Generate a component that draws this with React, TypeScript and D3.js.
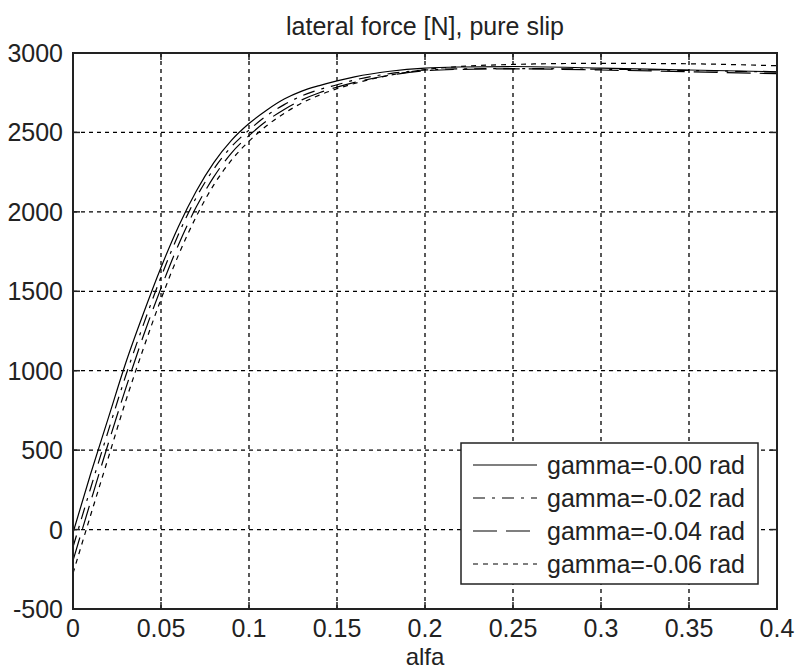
import React from "react";
import * as d3 from "d3";

const alfa = [0, 0.01, 0.02, 0.03, 0.04, 0.05, 0.06, 0.07, 0.08, 0.09, 0.1, 0.11, 0.12, 0.13, 0.14, 0.15, 0.16, 0.18, 0.2, 0.22, 0.25, 0.3, 0.35, 0.4];
const g000 = [-20, 350, 700, 1050, 1360, 1650, 1910, 2130, 2310, 2450, 2556, 2640, 2710, 2760, 2795, 2825, 2850, 2885, 2905, 2912, 2915, 2905, 2893, 2882];
const g002 = [-110, 260, 620, 970, 1290, 1590, 1860, 2090, 2270, 2410, 2515, 2605, 2675, 2730, 2770, 2800, 2830, 2870, 2893, 2900, 2902, 2898, 2890, 2880];
const g004 = [-195, 175, 540, 890, 1220, 1520, 1795, 2030, 2220, 2370, 2480, 2572, 2645, 2705, 2750, 2785, 2815, 2860, 2888, 2897, 2900, 2893, 2882, 2870];
const g006 = [-275, 90, 450, 810, 1140, 1450, 1730, 1970, 2170, 2325, 2445, 2542, 2620, 2685, 2735, 2775, 2808, 2860, 2895, 2915, 2928, 2935, 2932, 2920];

const seriesNames = ["gamma=-0.00 rad", "gamma=-0.02 rad", "gamma=-0.04 rad", "gamma=-0.06 rad"];
const seriesValues = [g000, g002, g004, g006];
const dashes = ["none", "12,7,3,7", "24,9", "5,5"];

const xTicks = [0, 0.05, 0.1, 0.15, 0.2, 0.25, 0.3, 0.35, 0.4];
const xTickLabels = ["0", "0.05", "0.1", "0.15", "0.2", "0.25", "0.3", "0.35", "0.4"];
const yTicks = [-500, 0, 500, 1000, 1500, 2000, 2500, 3000];

const FONT = "'Liberation Sans', Arial, sans-serif";

export default function App() {
  const L = 73, R = 777, T = 53, B = 609;
  const x = d3.scaleLinear().domain([0, 0.4]).range([L, R]);
  const y = d3.scaleLinear().domain([-500, 3000]).range([B, T]);
  const line = d3
    .line<number>()
    .x((_, i) => x(alfa[i]))
    .y((v) => y(v))
    .curve(d3.curveMonotoneX);

  const tickLen = 7;
  const legL = 461, legT = 443, legR = 758, legB = 584;
  const rowY = [465, 498, 531, 564];

  return (
    <svg
      width={795}
      height={671}
      style={{ position: "absolute", left: 0, top: 0, background: "#fff" }}
      fontFamily={FONT}
    >
      <rect x={0} y={0} width={795} height={671} fill="#fff" />
      {/* grid */}
      <g stroke="#000" strokeWidth={1.3} strokeDasharray="4,4">
        {xTicks.map((t, i) => (
          <line key={"gx" + i} x1={x(t)} x2={x(t)} y1={B} y2={T} />
        ))}
        {yTicks.map((t, i) => (
          <line key={"gy" + i} x1={L} x2={R} y1={y(t)} y2={y(t)} />
        ))}
      </g>
      {/* curves */}
      <g fill="none" stroke="#000" strokeWidth={1.2}>
        {seriesValues.map((s, i) => (
          <path key={"s" + i} d={line(s) || ""} strokeDasharray={dashes[i]} />
        ))}
      </g>
      {/* ticks */}
      <g stroke="#222" strokeWidth={1.5}>
        {xTicks.map((t, i) => (
          <g key={"tx" + i}>
            <line x1={x(t)} x2={x(t)} y1={B} y2={B - tickLen} />
            <line x1={x(t)} x2={x(t)} y1={T} y2={T + tickLen} />
          </g>
        ))}
        {yTicks.map((t, i) => (
          <g key={"ty" + i}>
            <line x1={L} x2={L + tickLen} y1={y(t)} y2={y(t)} />
            <line x1={R} x2={R - tickLen} y1={y(t)} y2={y(t)} />
          </g>
        ))}
      </g>
      {/* box */}
      <rect x={L} y={T} width={R - L} height={B - T} fill="none" stroke="#222" strokeWidth={2} />
      {/* tick labels */}
      <g fontSize={25} fill="#222">
        {xTicks.map((t, i) => (
          <text key={"lx" + i} x={x(t)} y={637} textAnchor="middle">
            {xTickLabels[i]}
          </text>
        ))}
        {yTicks.map((t, i) => (
          <text key={"ly" + i} x={63} y={y(t) + 9} textAnchor="end">
            {String(t)}
          </text>
        ))}
      </g>
      {/* title & axis label */}
      <text x={(L + R) / 2} y={35} textAnchor="middle" fontSize={25} fill="#222">
        lateral force [N], pure slip
      </text>
      <text x={(L + R) / 2} y={665} textAnchor="middle" fontSize={24} fill="#222">
        alfa
      </text>
      {/* legend */}
      <rect x={legL} y={legT} width={legR - legL} height={legB - legT} fill="#fff" stroke="#222" strokeWidth={1.5} />
      {seriesNames.map((n, i) => (
        <g key={"lg" + i}>
          <line x1={473} x2={537} y1={rowY[i]} y2={rowY[i]} stroke="#000" strokeWidth={1.2} strokeDasharray={dashes[i]} />
          <text x={547} y={rowY[i] + 9} fontSize={25} fill="#222">
            {n}
          </text>
        </g>
      ))}
    </svg>
  );
}
